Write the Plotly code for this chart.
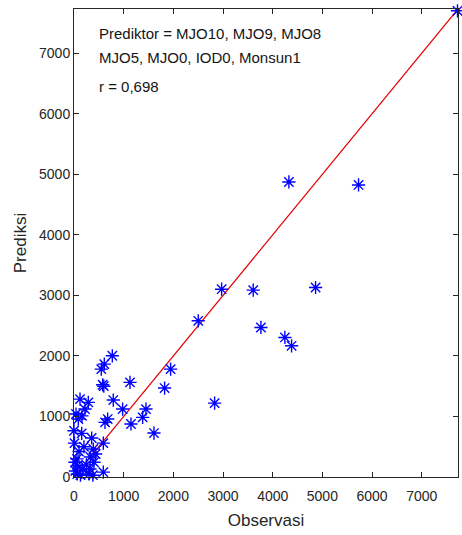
import plotly.graph_objects as go

observasi = [7720, 4326, 5728, 2972, 3608, 4863, 2501, 3763, 4245, 4380,
             2831, 1945, 1824, 1449, 1382, 1610, 771, 610, 550, 577,
             600, 1127, 791, 979, 1147, 678, 624, 121, 288, 221,
             40, 87, 160, 0, 155, 356, 590, 389, 101, 436,
             20, 60, 402, 67, 168, 322, 590, 302, 67, 30,
             130, 380, 330, 250, 200, 10]
prediksi = [7700, 4873, 4824, 3102, 3086, 3130, 2580, 2470, 2305, 2167,
            1221, 1782, 1469, 1122, 985, 726, 2002, 1865, 1782, 1523,
            1500, 1563, 1271, 1122, 875, 957, 903, 1287, 1232, 1122,
            1040, 957, 1010, 764, 720, 644, 560, 462, 420, 380,
            243, 300, 243, 187, 132, 132, 80, 50, 50, 100,
            30, 30, 330, 200, 500, 560]

axis_max = 7730
ref_line = [0, axis_max]
tick_vals = [0, 1000, 2000, 3000, 4000, 5000, 6000, 7000]
text_lines = ["Prediktor = MJO10, MJO9, MJO8", "MJO5, MJO0, IOD0, Monsun1", "r = 0,698"]

FONT = "Liberation Sans, Arial, sans-serif"
GRAY = "rgb(38,38,38)"

fig = go.Figure()
fig.add_trace(go.Scatter(
    x=ref_line, y=ref_line, mode="lines",
    line=dict(color="rgb(230,0,0)", width=1.2),
    showlegend=False, hoverinfo="skip"))
fig.add_trace(go.Scatter(
    x=observasi, y=prediksi, mode="markers",
    marker=dict(symbol="asterisk-open", size=11, color="rgb(0,0,255)",
                line=dict(color="rgb(0,0,255)", width=1.4)),
    cliponaxis=False, showlegend=False))

axis_common = dict(
    range=[0, axis_max], tickvals=tick_vals, ticks="inside", ticklen=5,
    tickcolor=GRAY, tickwidth=1, showline=True, linecolor=GRAY, linewidth=1,
    mirror="ticks", showgrid=False, zeroline=False,
    tickfont=dict(family=FONT, size=14, color=GRAY))

fig.update_xaxes(**axis_common, ticklabelstandoff=6,
                 title=dict(text="Observasi", font=dict(family=FONT, size=17, color=GRAY), standoff=11))
fig.update_yaxes(**axis_common,
                 title=dict(text="Prediksi", font=dict(family=FONT, size=17, color=GRAY), standoff=8))

for i, (txt, yp) in enumerate(zip(text_lines, [33, 58, 87])):
    fig.add_annotation(
        text=txt, xref="paper", yref="paper",
        x=(97 - 74) / (458 - 74), y=1 - (yp - 9) / (477 - 9),
        xanchor="left", yanchor="middle", showarrow=False,
        font=dict(family=FONT, size=15, color="rgb(20,20,20)"))

fig.update_layout(
    width=462, height=535,
    margin=dict(l=74, r=4, t=9, b=58, autoexpand=False),
    plot_bgcolor="white", paper_bgcolor="white",
    font=dict(family=FONT))

fig.write_html("out.html", config={"displayModeBar": False},
               post_script="document.body.style.margin='0';document.body.style.overflow='hidden';")
